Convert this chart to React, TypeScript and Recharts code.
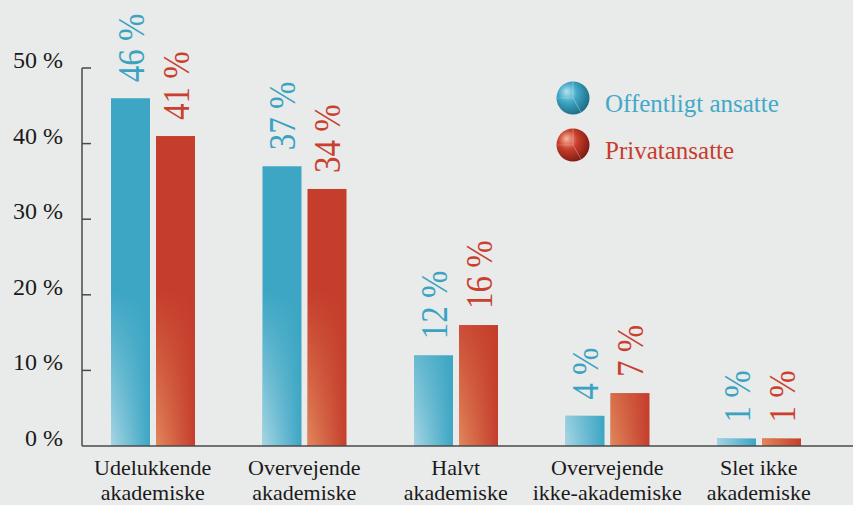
import { BarChart, Bar, XAxis, YAxis, LabelList } from "recharts";

const categories = [
  "Udelukkende|akademiske",
  "Overvejende|akademiske",
  "Halvt|akademiske",
  "Overvejende|ikke-akademiske",
  "Slet ikke|akademiske",
];
const offentlig = [46, 37, 12, 4, 1];
const privat = [41, 34, 16, 7, 1];
const yTicks = [0, 10, 20, 30, 40, 50];
const seriesNames = ["Offentligt ansatte", "Privatansatte"];

const data = categories.map((name, i) => ({ name, off: offentlig[i], priv: privat[i] }));

const FONT = '"Liberation Serif", "Times New Roman", serif';
const BLUE = "#3ca6c4";
const RED = "#c53e2c";

const makeShape = (base: string, overlay: string) => (props: any) => {
  const { x, y, width, height } = props;
  if (!height) return null;
  return (
    <g>
      <rect x={x} y={y} width={width} height={height} fill={base} />
      <rect x={x} y={y} width={width} height={height} fill={overlay} mask="url(#fadeMask)" />
    </g>
  );
};

const makeLabel = (color: string) => (props: any) => {
  const { x, y, width, value } = props;
  const cx = x + width / 2 + 13;
  const cy = y - 16;
  return (
    <text
      transform={`translate(${cx},${cy}) rotate(-90) scale(1,1.18)`}
      fill={color}
      style={{ fontFamily: FONT, fontSize: 33 }}
      textAnchor="start"
    >
      {value} %
    </text>
  );
};

const YTick = (props: any) => {
  const { x, y, payload } = props;
  return (
    <g>
      {payload.value !== 0 && (
        <line x1={x} x2={x + 9} y1={y} y2={y} stroke="#4a4a4a" strokeWidth={1.5} />
      )}
      <text x={x - 19} y={y} textAnchor="end" style={{ fontFamily: FONT, fontSize: 24 }} fill="#1a1a1a">
        {payload.value} %
      </text>
    </g>
  );
};

const XTick = (props: any) => {
  const { x, y, payload } = props;
  const lines = String(payload.value).split("|");
  return (
    <text textAnchor="middle" style={{ fontFamily: FONT, fontSize: 22 }} fill="#1a1a1a">
      {lines.map((l, i) => (
        <tspan key={i} x={x} y={y + 29 + i * 25}>
          {l}
        </tspan>
      ))}
    </text>
  );
};

const LegendBox = () => {
  const items = [
    { name: seriesNames[0], color: "#3fa9c8", grad: "sphBlue" },
    { name: seriesNames[1], color: "#c63d2b", grad: "sphRed" },
  ];
  return (
    <svg width={280} height={95} style={{ position: "absolute", left: 555, top: 78 }}>
      <defs>
        <radialGradient id="sphBlue" cx="0.4" cy="0.4" r="0.65" fx="0.3" fy="0.3">
          <stop offset="0" stopColor="#b4e2f0" />
          <stop offset="0.45" stopColor="#3fa7c6" />
          <stop offset="1" stopColor="#1b6a82" />
        </radialGradient>
        <radialGradient id="sphRed" cx="0.4" cy="0.4" r="0.65" fx="0.3" fy="0.3">
          <stop offset="0" stopColor="#f6b8a0" />
          <stop offset="0.45" stopColor="#c93f2b" />
          <stop offset="1" stopColor="#7a1810" />
        </radialGradient>
      </defs>
      {items.map((it, i) => {
        const cy = 20 + i * 47;
        return (
          <g key={it.name}>
            <circle cx={18} cy={cy} r={16.5} fill={`url(#${it.grad})`} />
            <line x1={18} y1={cy} x2={18} y2={cy - 16} stroke="rgba(255,255,255,0.3)" />
            <line x1={18} y1={cy} x2={2} y2={cy} stroke="rgba(255,255,255,0.2)" />
            <line x1={18} y1={cy} x2={26} y2={cy + 14} stroke="rgba(255,255,255,0.3)" />
            <text x={50} y={cy + 14} style={{ fontFamily: FONT, fontSize: 25 }} fill={it.color}>
              {it.name}
            </text>
          </g>
        );
      })}
    </svg>
  );
};

export default function App() {
  return (
    <div style={{ width: 853, height: 505, background: "#e9eaea", position: "relative", fontFamily: FONT }}>
      <style>{"body{margin:0;background:#e9eaea}"}</style>
      <BarChart
        width={853}
        height={505}
        data={data}
        margin={{ top: 68, right: 0, bottom: 0, left: 0 }}
        barSize={39}
        barGap={6}
      >
        <defs>
          <linearGradient id="vfade" gradientUnits="userSpaceOnUse" x1="0" y1="446" x2="0" y2="290">
            <stop offset="0" stopColor="#fff" />
            <stop offset="1" stopColor="#000" />
          </linearGradient>
          <mask id="fadeMask" maskUnits="userSpaceOnUse" x="0" y="0" width="853" height="505">
            <rect x="0" y="0" width="853" height="505" fill="url(#vfade)" />
          </mask>
          <linearGradient id="blueOver" x1="0" y1="0" x2="1" y2="0">
            <stop offset="0" stopColor="#c3e2ec" stopOpacity={0.8} />
            <stop offset="1" stopColor="#c3e2ec" stopOpacity={0} />
          </linearGradient>
          <linearGradient id="redOver" x1="0" y1="0" x2="1" y2="0">
            <stop offset="0" stopColor="#e99a68" stopOpacity={0.8} />
            <stop offset="1" stopColor="#e99a68" stopOpacity={0} />
          </linearGradient>
        </defs>
        <XAxis
          dataKey="name"
          height={59}
          interval={0}
          tickLine={false}
          tickSize={0}
          tickMargin={0}
          padding={{ left: -5, right: 18.5 }}
          axisLine={{ stroke: "#4a4a4a", strokeWidth: 1.5 }}
          tick={<XTick />}
        />
        <YAxis
          width={82}
          domain={[0, 50]}
          ticks={yTicks}
          interval={0}
          tickLine={false}
          tickSize={0}
          tickMargin={0}
          axisLine={{ stroke: "#4a4a4a", strokeWidth: 1.5 }}
          tick={<YTick />}
        />
        <Bar
          dataKey="off"
          name={seriesNames[0]}
          fill={BLUE}
          shape={makeShape(BLUE, "url(#blueOver)")}
          isAnimationActive={false}
        >
          <LabelList dataKey="off" content={makeLabel("#3aa3c2")} />
        </Bar>
        <Bar
          dataKey="priv"
          name={seriesNames[1]}
          fill={RED}
          shape={makeShape(RED, "url(#redOver)")}
          isAnimationActive={false}
        >
          <LabelList dataKey="priv" content={makeLabel("#c9402e")} />
        </Bar>
      </BarChart>
      <LegendBox />
    </div>
  );
}
